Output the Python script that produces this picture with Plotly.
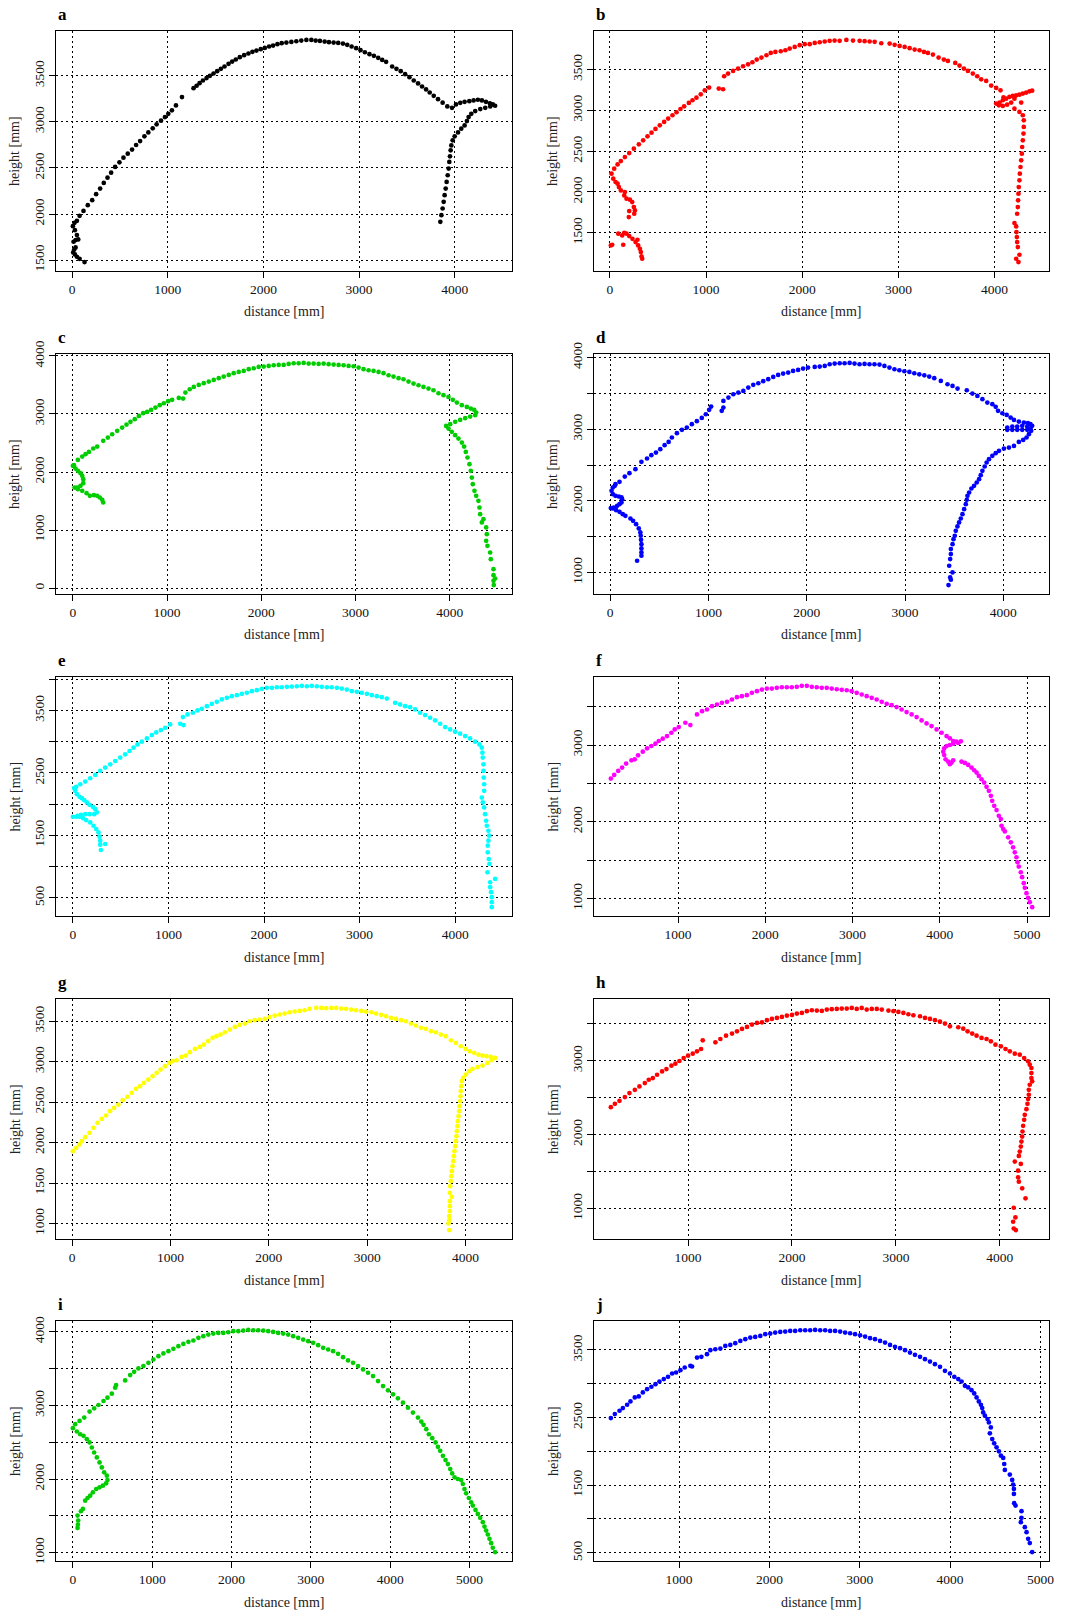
import plotly.graph_objects as go

W, H = 1071, 1613

# ---------------- data (distance [mm], height [mm]) ----------------
a_dist = [129,77,49,28,10,21,35,63,35,14,49,28,7,24,49,
          77,118,163,209,250,292,330,369,407,449,494,536,581,626,668,710,755,796,842,883,929,970,1005,1043,1085,1148,
          1269,1301,1332,1367,1405,1440,1478,1516,1555,1593,1635,1673,1711,1753,1798,1843,1885,1927,1972,2014,
          2059,2101,2146,2191,2240,2292,2344,2396,2449,2501,2546,2591,2640,2685,2734,2782,2831,2876,2922,2970,
          3015,3061,3109,3155,3200,3242,3283,3346,3391,3436,3482,3527,3572,3617,3659,3701,3739,3781,3826,3874,
          3923,3972,4014,4059,4104,4153,4198,4243,4285,4327,4368,4399,4423,
          4372,4320,4268,4215,4174,4146,4128,4104,4069,4035,4000,3979,3965,3958,3951,3944,3937,3927,3916,3906,
          3895,3885,3874,3861,3850]
a_height = [1478,1514,1536,1561,1583,1616,1637,1724,1717,1699,1771,1825,1868,1904,1926,
            1980,2034,2096,2150,2215,2276,2338,2395,2449,2511,2561,2612,2655,2699,2749,2792,2843,2886,2930,2973,3013,3052,3088,3125,3179,3269,
            3366,3392,3420,3449,3475,3500,3525,3550,3576,3601,3630,3655,3677,3702,3724,3742,3760,3774,3789,3803,
            3818,3828,3843,3854,3861,3868,3875,3883,3890,3890,3883,3879,3872,3865,3861,3857,3850,3836,3818,3800,
            3778,3756,3735,3717,3695,3673,3652,3601,3576,3550,3518,3485,3449,3417,3384,3352,3319,3283,3247,3208,
            3168,3153,3189,3207,3218,3225,3233,3240,3233,3218,3200,3189,3175,
            3168,3153,3139,3117,3088,3052,3009,2962,2926,2886,2843,2800,2745,2691,2626,2565,2493,2421,2348,2276,
            2204,2132,2060,1987,1915]

b_dist = [10,24,139,336,329,322,312,294,267,235,201,173,149,87,128,287,
          197,201,253,260,249,232,208,173,149,156,114,94,80,59,35,17,
          45,80,114,156,201,249,301,346,391,433,474,519,564,606,651,693,734,772,821,859,
          900,945,987,1032,1132,1177,1188,1229,1281,1333,1385,1437,1482,1527,1576,1628,1673,1721,1777,1825,
          1870,1922,1974,2026,2078,2130,2182,2234,2285,2337,2389,2459,2528,2597,2649,2701,2753,2822,2909,2961,
          3013,3065,3117,3169,3220,3266,3307,3359,3418,3473,3515,3591,3636,3681,3723,3774,3820,3861,3913,3965,
          4017,4062,
          4017,4052,4086,4121,4155,4190,4225,4259,4294,4329,4363,4391,4045,4086,4131,4173,4207,4093,4277,4207,
          4259,4294,4304,4304,4301,4294,4287,4284,4277,4270,4263,4259,4252,4249,4245,4242,4235,4207,4225,4228,
          4232,4235,4242,4259,4225,4249]
b_height = [1345,1353,1353,1181,1210,1263,1304,1345,1386,1426,1459,1488,1500,1488,1467,1414,
            1692,1766,1733,1774,1815,1876,1905,1917,1958,1999,2019,2060,2101,2122,2163,2224,
            2285,2338,2379,2428,2477,2531,2584,2633,2682,2727,2772,2817,2858,2899,2940,2977,3017,3050,3091,3124,
            3156,3197,3246,3279,3267,3259,3418,3451,3484,3512,3541,3565,3590,3623,3647,3676,3704,3717,3725,3737,
            3758,3778,3799,3811,3811,3827,3835,3844,3852,3856,3852,3864,3856,3852,3848,3844,3840,3823,3819,3803,
            3790,3778,3762,3745,3737,3717,3704,3684,3647,3623,3606,3582,3549,3512,3484,3451,3418,3381,3361,3304,
            3275,3246,
            3083,3095,3124,3144,3165,3177,3185,3193,3206,3218,3234,3242,3062,3054,3070,3095,3144,3160,3095,3021,
            2981,2940,2878,2797,2715,2633,2551,2469,2388,2306,2224,2142,2060,1979,1897,1815,1733,1619,1578,1508,
            1447,1385,1324,1230,1181,1140]

c_dist = [322,311,286,258,223,180,145,99,53,18,
          46,81,110,110,99,81,53,28,11,0,
          53,99,134,170,216,258,322,371,417,470,523,569,611,657,700,746,788,830,876,922,
          965,1011,1053,1124,1170,1194,1240,1283,1336,1389,1442,1495,1548,1601,1654,1707,1760,1813,1866,1919,
          1972,2025,2078,2131,2184,2237,2290,2343,2396,2449,2502,2555,2608,2661,2714,2767,2820,2873,2926,2979,
          3032,3085,3138,3191,3244,3297,3350,3403,3456,3509,3562,3615,3668,3721,3774,3827,3880,3933,3986,4032,
          4075,4128,4181,4223,4259,4280,4269,
          4216,4163,4110,4057,4004,3961,3986,4021,4057,4092,4128,4152,4170,4188,4209,4223,4234,4244,4262,4280,
          4304,4315,4322,4357,4340,4386,4393,4386,4400,4428,4435,4464,4464,4481,4464,4467]
c_height = [1475,1521,1561,1590,1601,1590,1636,1676,1704,1733,
            1733,1762,1808,1877,1934,1980,2020,2060,2118,2106,
            2209,2267,2307,2347,2405,2439,2537,2594,2651,2709,2766,2818,2864,2910,2967,3013,3036,3070,3111,3151,
            3185,3220,3243,3277,3266,3369,3426,3466,3501,3530,3558,3587,3616,3644,3673,3702,3725,3742,3771,3788,
            3811,3816,3828,3839,3845,3845,3862,3874,3874,3880,3868,3868,3862,3868,3857,3851,3845,3839,3828,3822,
            3799,3771,3753,3742,3725,3702,3667,3644,3616,3598,3558,3524,3495,3466,3438,3409,3357,3323,3294,3243,
            3197,3151,3122,3093,3070,3024,2979,
            2956,2927,2898,2864,2824,2795,2749,2692,2634,2577,2508,2439,2347,2250,2135,2020,1905,1791,1676,1590,
            1504,1389,1274,1188,1131,1045,930,815,729,614,499,327,224,166,126,52]

d_dist = [274,318,318,318,318,314,311,307,291,264,233,206,155,128,95,61,27,7,37,
          71,95,115,122,115,88,54,27,14,27,47,54,
          95,149,196,257,318,375,419,466,510,554,595,628,679,730,780,831,882,932,973,1007,
          1027,1135,1152,1152,1203,1253,1304,1355,1405,1456,1507,1557,1608,1659,1709,1760,1811,1861,1912,1963,
          2013,2081,2132,2183,2233,2284,2335,2385,2436,2486,2537,2588,2638,2689,2740,2790,2841,2892,2942,2993,
          3044,3094,3145,3196,3246,3297,3364,3432,3483,3534,3628,3685,3736,3787,3837,3888,3922,3946,3990,4034,
          4074,4108,4158,4209,4250,4276,4293,4276,4243,4192,4141,4091,4040,4040,4091,4141,4192,4243,4283,4260,
          4236,4202,4158,4108,4057,4006,3956,3922,3888,3854,3830,3810,3787,3770,3753,3729,3702,3675,3652,3635,
          3628,3618,3601,3584,3567,3550,3533,3516,3506,3493,3483,3466,3466,3459,3449,3483,3459,3466,3442]
d_height = [1163,1233,1279,1335,1395,1456,1512,1558,1614,1674,1721,1753,1791,1814,1847,1870,1893,1898,1907,
            1930,1953,1977,2023,2047,2060,2070,2093,2140,2186,2209,2233,
            2265,2339,2386,2442,2544,2591,2637,2674,2721,2777,2823,2884,2944,2991,3023,3070,3112,3158,3209,3270,
            3316,3256,3302,3395,3442,3488,3512,3535,3581,3619,3642,3670,3698,3730,3758,3777,3791,3814,3828,3847,
            3860,3870,3874,3884,3907,3916,3921,3921,3926,3916,3907,3912,3907,3907,3902,3884,3860,3837,3823,3809,
            3800,3781,3767,3753,3735,3712,3674,3628,3605,3567,3544,3498,3465,3419,3372,3349,3312,3256,3223,3200,
            3163,3130,3107,3093,3084,3070,3047,3009,2991,2991,2991,2991,2991,3023,3037,3037,3047,3037,2977,2930,
            2884,2851,2823,2767,2744,2730,2698,2665,2628,2581,2535,2479,2419,2358,2302,2256,2209,2172,2116,2070,
            2014,1953,1884,1814,1753,1698,1642,1581,1512,1465,1395,1326,1256,1186,1093,1000,930,898,823]

e_dist = [293,338,286,286,279,268,244,216,181,139,105,70,35,0,
          49,84,129,174,223,251,234,209,174,146,119,94,70,42,24,14,35,
          77,129,181,234,286,338,391,443,495,547,593,635,676,722,774,826,872,921,966,1018,
          1123,1158,1151,1200,1255,1304,1349,1402,1454,1506,1559,1611,1663,1716,1768,1820,1873,1925,1977,2029,
          2082,2134,2186,2239,2291,2343,2396,2448,2500,2552,2605,2657,2709,2762,2814,2866,2919,2971,3023,3076,
          3128,3180,3232,3285,3372,3424,3476,3529,3581,3633,3685,3738,3790,3843,3895,3947,3999,4052,4104,4156,
          4209,4254,4279,
          4285,4289,4296,4296,4299,4303,4303,4279,4289,4303,4313,4324,4331,4348,4355,4348,4341,4341,4352,4359,
          4338,4366,4366,4376,4383,4383,4383,4418]
e_height = [1266,1362,1351,1415,1479,1548,1601,1654,1707,1745,1777,1798,1798,1798,
            1814,1830,1840,1840,1840,1867,1920,1957,1989,2027,2064,2096,2117,2160,2213,2255,2277,
            2319,2362,2415,2468,2532,2585,2638,2691,2745,2798,2851,2904,2957,3000,3053,3106,3149,3186,3223,3277,
            3287,3266,3394,3436,3463,3500,3527,3569,3606,3638,3676,3702,3729,3745,3766,3782,3809,3825,3846,3862,
            3862,3872,3872,3878,3883,3888,3894,3888,3894,3888,3878,3872,3872,3862,3851,3835,3809,3798,3782,3766,
            3745,3729,3713,3691,3622,3596,3569,3553,3516,3463,3426,3383,3340,3287,3234,3197,3160,3128,3090,3053,
            3000,2957,2904,
            2824,2745,2638,2532,2425,2319,2213,2106,2027,1947,1840,1734,1654,1574,1495,1415,1335,1229,1122,1043,
            910,750,670,590,511,431,351,803]

f_dist = [230,268,314,359,405,466,504,542,596,645,695,741,779,825,874,924,962,1008,1084,1141,
          1217,1275,1332,1389,1446,1503,1561,1618,1675,1732,1789,1846,1904,1961,2018,2075,2132,2190,2247,2304,
          2361,2418,2476,2533,2590,2647,2704,2761,2819,2876,2933,2990,3047,3105,3162,3219,3276,3334,3391,3448,
          3505,3562,3619,3677,3734,3791,3848,3905,3963,4020,4077,4115,
          4153,4191,4241,4210,4153,4115,4077,4050,4039,4050,4066,4096,4134,4115,4153,
          4249,4287,4325,4363,4394,4421,4447,4478,4508,4535,4562,4585,4600,4623,4650,4676,4699,4707,4726,4745,
          4783,4814,4840,4859,4878,4890,4905,4928,4943,4962,4974,4993,5012,5031,5058]
f_height = [2563,2610,2662,2706,2758,2801,2814,2866,2913,2957,2987,3017,3052,3082,3117,3160,3203,3234,3290,3260,
            3398,3441,3463,3506,3528,3550,3563,3593,3623,3636,3649,3680,3701,3723,3736,3736,3745,3753,3753,3753,
            3758,3771,3771,3758,3753,3745,3745,3736,3727,3719,3714,3701,3680,3658,3636,3615,3593,3563,3537,3519,
            3494,3463,3429,3398,3364,3320,3281,3247,3203,3160,3117,3087,
            3052,3043,3048,3026,3017,3000,2987,2957,2913,2870,2814,2784,2771,2749,2801,
            2784,2766,2740,2706,2671,2641,2597,2554,2511,2455,2403,2338,2273,2208,2152,2078,2035,1948,1905,1874,
            1797,1732,1667,1602,1537,1472,1416,1342,1277,1199,1139,1069,1009,952,887]

g_dist = [7,41,74,98,132,176,216,257,301,345,385,426,470,514,561,605,649,690,730,774,
          818,859,899,943,987,1021,1062,1112,1156,1197,1248,1298,1339,1383,1427,1467,1508,1552,1603,1654,
          1704,1755,1805,1856,1907,1958,2008,2059,2110,2160,2211,2262,2313,2363,2414,2482,2532,2583,2634,2685,
          2735,2786,2837,2887,2938,2989,3040,3090,3141,3192,3242,3293,3344,3394,3445,3496,3546,3597,3648,3699,
          3749,3800,3851,3902,3952,4003,4044,4088,4132,4173,4213,4257,4301,
          4267,4223,4173,4122,4071,4037,4003,3976,3962,3956,3952,3949,3946,3939,3935,3929,3922,3918,3912,3908,
          3902,3895,3888,3882,3875,3868,3861,3855,3851,3844,3841,3861,3841,3841,3841,3834,3834,3827,3834]
g_height = [1894,1935,1976,2017,2067,2120,2182,2244,2293,2335,2388,2429,2470,2524,2565,2615,2664,2697,2738,2779,
            2821,2862,2903,2944,2985,3006,3018,3059,3076,3117,3158,3183,3212,3253,3294,3315,3335,3364,3397,3430,
            3455,3471,3500,3513,3521,3529,3550,3570,3583,3595,3611,3620,3628,3636,3653,3665,3665,3661,3665,3665,
            3657,3653,3644,3636,3628,3620,3611,3595,3579,3562,3541,3529,3513,3500,3471,3447,3418,3406,3377,3364,
            3335,3315,3265,3232,3191,3158,3129,3109,3088,3076,3068,3059,3047,
            3018,2985,2952,2932,2911,2882,2841,2800,2759,2697,2635,2573,2512,2450,2388,2326,2265,2203,2141,2079,
            2017,1956,1894,1832,1770,1708,1647,1585,1523,1461,1379,1330,1276,1214,1152,1091,1041,1000,918]

h_dist = [257,296,340,392,436,488,532,584,622,661,702,750,792,840,878,917,958,1000,1045,1086,
          1125,1141,1263,1311,1365,1423,1471,1519,1567,1615,1663,1711,1759,1807,1855,1903,1951,2000,2047,2095,
          2143,2191,2239,2287,2335,2383,2431,2479,2527,2575,2623,2671,2719,2768,2816,2864,2928,2976,3024,3072,
          3120,3168,3232,3280,3328,3376,3424,3472,3520,3600,3648,3690,3734,3776,3824,3872,3914,3958,4010,4055,
          4096,4144,4192,4234,4272,
          4288,4304,4304,4304,4311,4288,4279,4279,4272,4266,4256,4240,4234,4224,4218,4215,4208,4202,4192,4183,
          4144,4202,4176,4176,4183,4215,4247,4134,4150,4128,4134,4154]
h_height = [2371,2416,2457,2507,2561,2606,2652,2697,2742,2765,2810,2855,2887,2932,2959,2996,3036,3068,3095,3127,
            3158,3276,3249,3294,3339,3367,3398,3430,3457,3489,3511,3520,3548,3566,3579,3593,3611,3620,3638,3647,
            3670,3683,3679,3674,3692,3697,3701,3706,3706,3715,3701,3715,3692,3701,3701,3692,3679,3670,3661,3647,
            3629,3615,3602,3579,3566,3548,3529,3502,3466,3453,3434,3398,3367,3339,3308,3294,3262,3217,3195,3158,
            3127,3095,3082,3036,2991,
            2946,2901,2833,2765,2720,2674,2606,2539,2480,2416,2344,2267,2199,2118,2041,1973,1905,1837,1769,1710,
            1634,1602,1511,1421,1362,1272,1136,1009,878,819,728,706]

i_dist = [59,63,67,59,101,126,155,185,218,252,294,336,378,419,436,428,394,365,336,302,
          268,239,210,176,134,92,50,0,
          29,84,143,210,268,323,386,436,491,533,545,659,722,772,826,889,952,1015,1078,1141,
          1204,1267,1330,1393,1456,1519,1582,1644,1707,1770,1833,1896,1959,2022,2085,2148,2211,2274,2337,2400,
          2462,2525,2588,2651,2714,2777,2840,2903,2966,3029,3092,3155,3218,3280,3343,3406,3469,3532,3595,3658,
          3721,3784,3847,3910,3973,4036,4098,4161,4224,4287,4350,4392,4421,4455,4488,4530,4572,4602,4631,4665,
          4698,4728,4757,4782,4812,4853,4895,4916,4937,4958,4992,5021,5042,5076,5105,5135,5168,5189,5210,5231,
          5252,5273,5294,5323]
i_height = [1338,1383,1438,1505,1564,1595,1708,1744,1776,1821,1866,1889,1911,1943,1988,2047,2092,2159,2227,2295,
            2362,2430,2498,2543,2588,2610,2647,2692,
            2746,2791,2836,2917,2962,3007,3061,3107,3161,3242,3278,3341,3413,3458,3504,3535,3580,3625,3670,3707,
            3738,3770,3806,3837,3865,3883,3919,3941,3964,3977,3986,3986,3995,4009,4009,4018,4027,4022,4022,4018,
            4009,4000,3986,3977,3964,3941,3919,3896,3874,3851,3819,3783,3761,3738,3702,3657,3612,3580,3535,3490,
            3445,3400,3332,3264,3206,3152,3098,3039,2971,2904,2836,2782,2737,2678,2610,2556,2498,2439,2385,2317,
            2259,2204,2137,2078,2024,2002,1988,1934,1866,1807,1744,1686,1641,1582,1528,1474,1415,1356,1302,1248,
            1189,1131,1068,1009]

j_dist = [245,289,341,378,425,462,510,554,599,646,694,739,783,831,878,923,967,1015,1063,1125,
          1144,1199,1247,1309,1346,1401,1457,1512,1567,1622,1678,1733,1788,1843,1899,1954,2009,2064,2120,2175,
          2230,2285,2341,2396,2451,2506,2562,2617,2672,2727,2783,2838,2893,2948,3004,3059,3114,3169,3225,3280,
          3335,3390,3446,3501,3556,3611,3667,3722,3777,3832,3888,3943,3998,4046,4090,4127,4164,4200,4237,4267,
          4293,4318,4341,4355,4366,4385,4414,4429,4451,4440,4466,4488,4514,4540,4562,4588,4599,4606,4661,4687,
          4698,4706,4706,4709,4724,4790,4790,4783,4827,4846,4864,4882,4908]
j_height = [2492,2551,2600,2640,2689,2738,2797,2812,2871,2920,2955,2994,3033,3068,3102,3151,3166,3201,3240,3264,
            3255,3387,3397,3437,3496,3510,3520,3559,3574,3599,3633,3658,3682,3692,3707,3732,3741,3756,3766,3771,
            3781,3781,3791,3791,3791,3796,3791,3791,3781,3781,3771,3756,3746,3732,3717,3697,3673,3658,3633,3609,
            3574,3545,3525,3496,3461,3427,3397,3363,3328,3289,3250,3191,3151,3102,3068,3033,2969,2945,2905,2856,
            2797,2738,2689,2640,2576,2527,2477,2428,2354,2266,2182,2118,2059,2000,1936,1902,1813,1725,1656,1577,
            1508,1444,1371,1233,1198,1115,1017,953,879,805,707,643,510]

# ---------------- ticks ----------------
a_xticks = [0, 1000, 2000, 3000, 4000]
a_yticks = [1500, 2000, 2500, 3000, 3500]
a_ylabels = [1500, 2000, 2500, 3000, 3500]
b_xticks = [0, 1000, 2000, 3000, 4000]
b_yticks = [1500, 2000, 2500, 3000, 3500]
b_ylabels = [1500, 2000, 2500, 3000, 3500]
c_xticks = [0, 1000, 2000, 3000, 4000]
c_yticks = [0, 1000, 2000, 3000, 4000]
c_ylabels = [0, 1000, 2000, 3000, 4000]
d_xticks = [0, 1000, 2000, 3000, 4000]
d_yticks = [1000, 1500, 2000, 2500, 3000, 3500, 4000]
d_ylabels = [1000, 2000, 3000, 4000]
e_xticks = [0, 1000, 2000, 3000, 4000]
e_yticks = [500, 1000, 1500, 2000, 2500, 3000, 3500, 4000]
e_ylabels = [500, 1500, 2500, 3500]
f_xticks = [1000, 2000, 3000, 4000, 5000]
f_yticks = [1000, 1500, 2000, 2500, 3000, 3500]
f_ylabels = [1000, 2000, 3000]
g_xticks = [0, 1000, 2000, 3000, 4000]
g_yticks = [1000, 1500, 2000, 2500, 3000, 3500]
g_ylabels = [1000, 1500, 2000, 2500, 3000, 3500]
h_xticks = [1000, 2000, 3000, 4000]
h_yticks = [1000, 1500, 2000, 2500, 3000, 3500]
h_ylabels = [1000, 2000, 3000]
i_xticks = [0, 1000, 2000, 3000, 4000, 5000]
i_yticks = [1000, 1500, 2000, 2500, 3000, 3500, 4000]
i_ylabels = [1000, 2000, 3000, 4000]
j_xticks = [1000, 2000, 3000, 4000, 5000]
j_yticks = [500, 1000, 1500, 2000, 2500, 3000, 3500]
j_ylabels = [500, 1500, 2500, 3500]

panel_letters = ["a", "b", "c", "d", "e", "f", "g", "h", "i", "j"]
panel_colors = ["#000000", "#FF0000", "#00CD00", "#0000FF", "#00FFFF",
                "#FF00FF", "#FFFF00", "#FF0000", "#00CD00", "#0000FF"]
x_title = "distance [mm]"
y_title = "height [mm]"

panels = [
    (a_dist, a_height, a_xticks, a_yticks, a_ylabels),
    (b_dist, b_height, b_xticks, b_yticks, b_ylabels),
    (c_dist, c_height, c_xticks, c_yticks, c_ylabels),
    (d_dist, d_height, d_xticks, d_yticks, d_ylabels),
    (e_dist, e_height, e_xticks, e_yticks, e_ylabels),
    (f_dist, f_height, f_xticks, f_yticks, f_ylabels),
    (g_dist, g_height, g_xticks, g_yticks, g_ylabels),
    (h_dist, h_height, h_xticks, h_yticks, h_ylabels),
    (i_dist, i_height, i_xticks, i_yticks, i_ylabels),
    (j_dist, j_height, j_xticks, j_yticks, j_ylabels),
]

# ---------------- layout geometry (pixels) ----------------
col_px = [(56, 512), (594, 1049)]
row_px = [(31, 271), (354, 594), (677, 916), (999, 1239), (1321, 1561)]

FONT = "Liberation Serif"
fig = go.Figure()
annotations = []


def pad_range(v):
    lo, hi = min(v), max(v)
    d = (hi - lo) * 0.04
    return [lo - d, hi + d]


for k, (xs, ys, xt, yt, ylab) in enumerate(panels):
    r, c = divmod(k, 2)
    n = "" if k == 0 else str(k + 1)
    x0, x1 = col_px[c]
    t, b = row_px[r]
    xd = [x0 / W, x1 / W]
    yd = [1 - b / H, 1 - t / H]
    fig.add_trace(go.Scatter(
        x=xs, y=ys, mode="markers", xaxis="x" + n, yaxis="y" + n,
        marker=dict(color=panel_colors[k], size=4.7, line=dict(width=0)),
        showlegend=False, hoverinfo="x+y"))
    common = dict(showline=True, mirror=True, linecolor="black", linewidth=1,
                  ticks="outside", ticklen=6, tickcolor="black", tickwidth=1,
                  showgrid=True, gridcolor="black", gridwidth=1, griddash="2px,3px",
                  zeroline=False, automargin=False,
                  tickfont=dict(family=FONT, size=13.5, color="#111"),
                  tickmode="array")
    fig.layout["xaxis" + n] = dict(common, domain=xd, range=pad_range(xs),
                                   anchor="y" + n, tickvals=xt,
                                   ticktext=[str(v) for v in xt])
    fig.layout["yaxis" + n] = dict(common, domain=yd, range=pad_range(ys),
                                   anchor="x" + n, tickvals=yt, tickangle=-90,
                                   ticktext=[str(v) if v in ylab else "" for v in yt])
    # panel letter
    annotations.append(dict(text="<b>%s</b>" % panel_letters[k], xref="paper", yref="paper",
                            x=xd[0], y=yd[1], xanchor="left", yanchor="bottom", yshift=5,
                            showarrow=False, font=dict(family=FONT, size=17, color="black")))
    # axis titles
    annotations.append(dict(text=x_title, xref="paper", yref="paper",
                            x=(xd[0] + xd[1]) / 2, y=yd[0], xanchor="center", yanchor="middle",
                            yshift=-41, showarrow=False,
                            font=dict(family=FONT, size=14, color="#222")))
    annotations.append(dict(text=y_title, xref="paper", yref="paper",
                            x=xd[0], y=(yd[0] + yd[1]) / 2, xanchor="center", yanchor="middle",
                            xshift=-41, textangle=-90, showarrow=False,
                            font=dict(family=FONT, size=14, color="#222")))

fig.update_layout(width=W, height=H, margin=dict(l=0, r=0, t=0, b=0),
                  paper_bgcolor="white", plot_bgcolor="white",
                  annotations=annotations)
fig.write_html("out.html", config={"displayModeBar": False},
               post_script="document.body.style.margin='0px';document.body.style.padding='0px';")
